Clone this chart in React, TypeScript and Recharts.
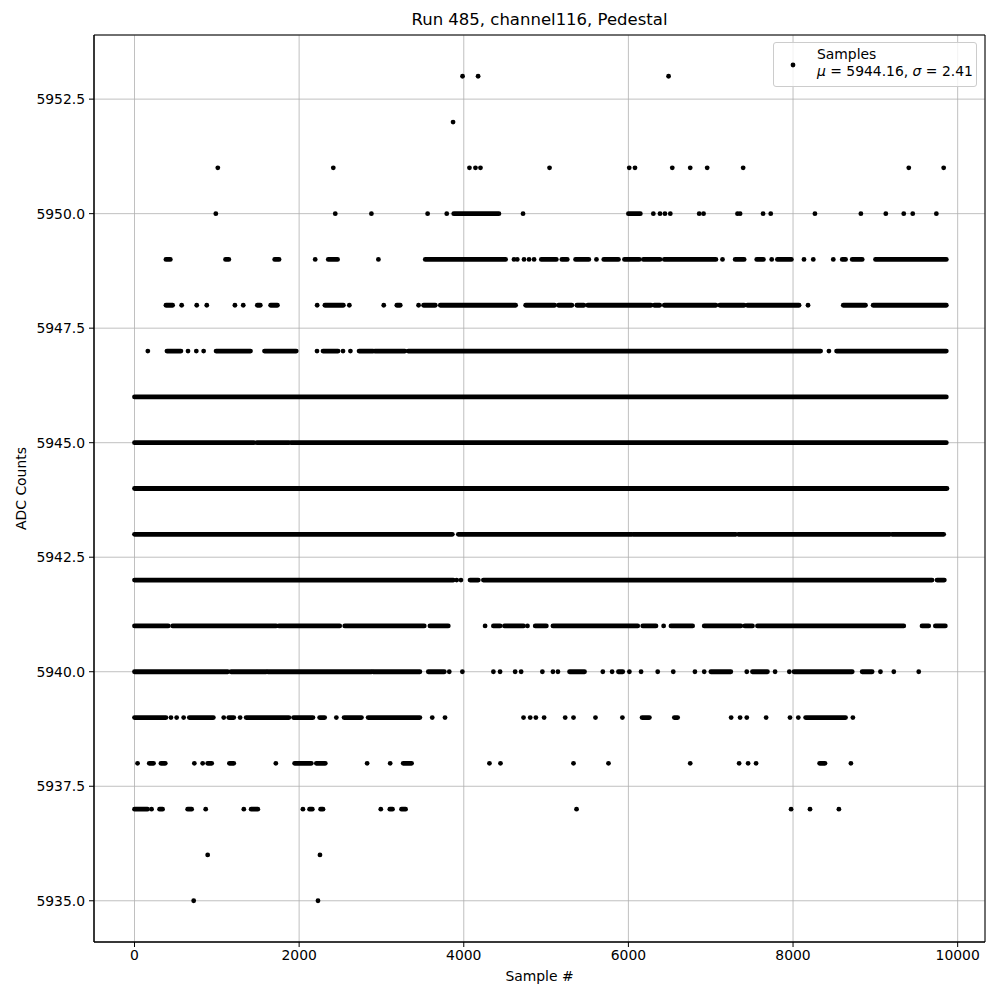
import { ScatterChart, Scatter, XAxis, YAxis, CartesianGrid, ReferenceLine, ReferenceArea } from "recharts";

// ADC level -> sample ranges where the dots are so dense they merge into a bar
const RUNS: [number, number, number][] = [
  [5950, 3878, 4427], [5950, 6000, 6145],
  [5949, 382, 435], [5949, 1106, 1146], [5949, 1703, 1756], [5949, 2354, 2467], [5949, 3532, 4508],
  [5949, 4942, 5124], [5949, 5192, 5257], [5949, 5358, 5519], [5949, 5701, 5879], [5949, 5952, 6133],
  [5949, 6182, 6384], [5949, 6436, 7063], [5949, 7297, 7406], [5949, 7559, 7640], [5949, 7810, 7980],
  [5949, 8598, 8638], [5949, 8719, 8840], [5949, 9002, 9862],
  [5948, 382, 463], [5948, 1492, 1528], [5948, 1654, 1736], [5948, 2313, 2537], [5948, 3187, 3228],
  [5948, 3512, 3654], [5948, 3715, 4630], [5948, 4752, 5104], [5948, 5152, 5313], [5948, 5374, 5459],
  [5948, 5507, 6275], [5948, 6315, 6380], [5948, 6436, 7063], [5948, 7111, 7406], [5948, 7446, 8073],
  [5948, 8610, 8880], [5948, 8973, 9862],
  [5947, 394, 564], [5947, 991, 1409], [5947, 1579, 1965], [5947, 2290, 2473], [5947, 2728, 2899],
  [5947, 2919, 3285], [5947, 3325, 8335], [5947, 8529, 9862],
  [5946, 0, 9862],
  [5945, 0, 1449], [5945, 1486, 1876], [5945, 1904, 9862],
  [5944, 0, 9870],
  [5943, 0, 3861], [5943, 3934, 6040], [5943, 6060, 7305], [5943, 7337, 9175], [5943, 9203, 9830],
  [5942, 0, 3873], [5942, 4076, 4177], [5942, 4238, 9689], [5942, 9749, 9838],
  [5941, 0, 410], [5941, 463, 1721], [5941, 1754, 2493], [5941, 2554, 3520], [5941, 3589, 3812],
  [5941, 4360, 4441], [5941, 4494, 4726], [5941, 4868, 5003], [5941, 5083, 6113], [5941, 6174, 6335],
  [5941, 6517, 6780], [5941, 6921, 7366], [5941, 7414, 7507], [5941, 7568, 9345], [5941, 9567, 9648],
  [5941, 9729, 9850],
  [5940, 0, 1133], [5940, 1173, 1600], [5940, 1620, 2879], [5940, 2899, 3467], [5940, 3569, 3764],
  [5940, 5285, 5467], [5940, 5879, 5931], [5940, 7002, 7244], [5940, 7507, 7689], [5940, 8012, 8719],
  [5940, 8840, 8961],
  [5939, 0, 382], [5939, 666, 958], [5939, 1145, 1206], [5939, 1356, 1876], [5939, 1932, 2168],
  [5939, 2249, 2310], [5939, 2546, 2757], [5939, 2838, 3467], [5939, 6166, 6255], [5939, 6558, 6598],
  [5939, 8153, 8638],
  [5938, 179, 231], [5938, 321, 374], [5938, 889, 938], [5938, 1153, 1206], [5938, 1945, 2148],
  [5938, 2209, 2318], [5938, 3264, 3366], [5938, 8323, 8388],
  [5937, 0, 158], [5937, 305, 341], [5937, 646, 694], [5937, 1417, 1498], [5937, 2127, 2160],
  [5937, 2261, 2290], [5937, 3102, 3134], [5937, 3244, 3293],
];

// isolated samples, by ADC level
const SPARSE_HIGH: [number, number[]][] = [
  [5953, [3985, 4174, 6488]],
  [5952, [3870]],
  [5951, [1012, 2415, 4069, 4142, 4203, 5042, 6010, 6080, 6533, 6751, 6957, 7394, 9406, 9830]],
  [5950, [988, 2439, 2878, 3561, 3793, 4720, 6303, 6384, 6444, 6509, 6860, 6913, 7325, 7357, 7636, 7729, 8266, 8824, 9127, 9345, 9454, 9741]],
  [5949, [2195, 2963, 4610, 4650, 4732, 4793, 4854, 5612, 7143, 7741, 8133, 8246, 8489]],
  [5948, [573, 756, 878, 1220, 1321, 2219, 2610, 3028, 3451, 8182]],
  [5947, [162, 650, 751, 840, 2217, 2533, 2623, 8436]],
];
const SPARSE_MID: [number, number[]][] = [
  [5942, [3914, 3966]],
  [5941, [4259, 4774, 6428]],
  [5940, [3824, 3983, 4360, 4441, 4624, 4697, 4955, 5083, 5144, 5689, 5802, 6012, 6154, 6356, 6545, 6808, 6921, 7438, 7782, 7955, 9062, 9224, 9527]],
];
const SPARSE_LOW: [number, number[]][] = [
  [5939, [443, 512, 597, 1084, 1283, 2452, 3617, 3772, 4726, 4807, 4876, 4976, 5232, 5333, 5600, 5927, 7248, 7357, 7438, 7673, 7963, 8064, 8727]],
  [5938, [37, 727, 828, 1717, 2826, 3106, 4312, 4446, 5333, 5758, 6751, 7345, 7454, 7551, 8703]],
  [5937, [207, 865, 1328, 2046, 2992, 5370, 7976, 8206, 8557]],
  [5936, [889, 2253]],
  [5935, [719, 2229]],
];

const X_TICKS = [0, 2000, 4000, 6000, 8000, 10000];
const Y_TICKS = [5935, 5937.5, 5940, 5942.5, 5945, 5947.5, 5950, 5952.5];
const X_DOMAIN: [number, number] = [-492, 10332];
const Y_DOMAIN: [number, number] = [5934.1, 5953.9];

const FONT = "'DejaVu Sans', sans-serif";
const DOT_R = 2.4;

const dots = [...SPARSE_HIGH, ...SPARSE_MID, ...SPARSE_LOW].flatMap(([y, xs]) => xs.map((x) => ({ x, y })));

const Dot = (props: any) => <circle cx={props.cx} cy={props.cy} r={DOT_R} fill="#000" />;

export default function App() {
  return (
    <div style={{ position: "absolute", left: 0, top: 0, width: 1000, height: 1000, background: "#fff", fontFamily: FONT }}>
      <div style={{ position: "absolute", left: 94, width: 891, top: 10, textAlign: "center", fontSize: 16.5, color: "#000" }}>
        Run 485, channel116, Pedestal
      </div>
      <ScatterChart width={1000} height={1000} margin={{ top: 35, right: 15, bottom: 28, left: 0 }}>
        <CartesianGrid stroke="#b0b0b0" strokeWidth={0.8} />
        <XAxis
          type="number"
          dataKey="x"
          domain={X_DOMAIN}
          ticks={X_TICKS}
          allowDataOverflow
          height={30}
          tickSize={5}
          tickMargin={3}
          stroke="#000"
          tick={{ fill: "#000", fontSize: 13.9, fontFamily: FONT }}
          label={{
            content: ({ viewBox }: any) => (
              <text x={viewBox.x + viewBox.width / 2} y={viewBox.y + 34} textAnchor="middle" dominantBaseline="central" fontSize={13.9} fontFamily={FONT} fill="#000">
                Sample #
              </text>
            ),
          }}
        />
        <YAxis
          type="number"
          dataKey="y"
          domain={Y_DOMAIN}
          ticks={Y_TICKS}
          allowDataOverflow
          width={94}
          tickSize={5}
          tickMargin={4}
          stroke="#000"
          tickFormatter={(v: number) => v.toFixed(1)}
          tick={{ fill: "#000", fontSize: 13.9, fontFamily: FONT }}
          label={{
            content: ({ viewBox }: any) => {
              const cx = viewBox.x + 21;
              const cy = viewBox.y + viewBox.height / 2;
              return (
                <text x={cx} y={cy} transform={`rotate(-90 ${cx} ${cy})`} textAnchor="middle" dominantBaseline="central" fontSize={13.9} fontFamily={FONT} fill="#000">
                  ADC Counts
                </text>
              );
            },
          }}
        />
        {RUNS.map(([y, x0, x1], i) => (
          <ReferenceLine
            key={i}
            segment={[{ x: x0, y }, { x: x1, y }]}
            stroke="#000"
            strokeWidth={DOT_R * 2}
            strokeLinecap="round"
            ifOverflow="visible"
          />
        ))}
        <Scatter data={dots} shape={Dot} isAnimationActive={false} />
        <ReferenceArea x1={X_DOMAIN[0]} x2={X_DOMAIN[1]} y1={Y_DOMAIN[0]} y2={Y_DOMAIN[1]} fill="none" stroke="#000" strokeWidth={1} ifOverflow="visible" />
      </ScatterChart>
      <div
        style={{
          position: "absolute",
          left: 773,
          top: 42,
          width: 204,
          height: 45,
          boxSizing: "border-box",
          border: "1px solid #cccccc",
          borderRadius: 3,
          background: "rgba(255,255,255,0.8)",
          fontSize: 13.9,
          color: "#000",
        }}
      >
        <svg style={{ position: "absolute", left: 14, top: 17 }} width={10} height={10}>
          <circle cx={5} cy={5} r={DOT_R} fill="#000" />
        </svg>
        <div style={{ position: "absolute", left: 43, top: 3, whiteSpace: "nowrap", lineHeight: "17px" }}>
          <div>Samples</div>
          <div>
            <i>μ</i> = 5944.16, <i>σ</i> = 2.41
          </div>
        </div>
      </div>
    </div>
  );
}
